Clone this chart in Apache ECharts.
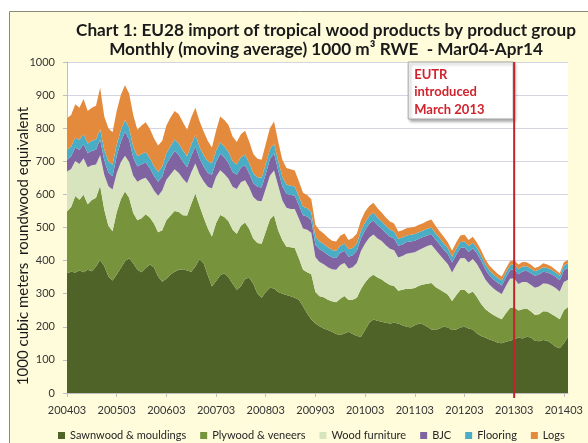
<!DOCTYPE html>
<html>
<head>
<meta charset="utf-8">
<script src="https://cdn.jsdelivr.net/npm/echarts@6/dist/echarts.min.js"></script>
<style>
  html, body { margin: 0; padding: 0; background: #ffffff; }
  #chart { width: 588px; height: 443px; }
</style>
</head>
<body>
<div id="chart"></div>
<script>
// Monthly categories, March 2004 to April 2014 (yyyymm)
const firstYear = 2004, firstMonth = 3, monthCount = 122;
const months = [];
for (let k = 0; k < monthCount; k++) {
  const m = firstMonth - 1 + k;
  months.push(String(firstYear + Math.floor(m / 12)) + String(m % 12 + 1).padStart(2, '0'));
}

const seriesNames = ['Sawnwood & mouldings', 'Plywood & veneers', 'Wood furniture', 'BJC', 'Flooring', 'Logs'];

// 1000 m3 RWE, moving average, one value per month
const sawnwood = [
  362,366,364,370,365,372,368,382,402,384,352,340,
  358,378,398,407,392,372,365,378,388,380,352,336,
  345,358,366,372,374,370,366,382,404,392,356,322,
  338,356,362,350,330,312,322,345,348,330,300,288,
  305,318,316,305,300,296,292,288,282,262,240,222,
  210,202,195,190,185,178,175,180,185,178,172,170,
  190,212,222,218,215,212,210,212,210,205,200,198,
  205,210,208,200,192,190,195,200,198,190,192,198,
  200,195,192,180,172,168,162,158,152,150,155,158,
  162,168,165,170,168,158,156,160,158,150,140,135,
  150,170
];
const plywood = [
  186,196,231,214,234,198,215,208,224,170,153,149,
  188,207,211,183,152,150,163,162,142,132,134,156,
  177,178,184,175,163,166,205,221,162,138,142,151,
  175,182,170,169,163,169,183,170,148,136,153,163,
  182,206,221,187,162,146,148,150,125,110,125,137,
  95,90,94,92,92,96,110,113,96,104,116,144,
  144,137,135,131,128,122,116,111,99,107,115,117,
  112,114,120,130,140,130,118,105,99,88,103,113,
  112,105,115,110,98,86,82,78,77,73,86,99,
  97,81,88,85,79,78,82,87,88,89,91,88,
  100,90
];
const furniture = [
  121,115,106,108,110,112,105,100,92,105,120,126,
  118,112,108,108,112,116,118,110,104,100,110,120,
  122,124,126,118,110,98,95,90,95,110,125,145,
  140,135,130,128,130,135,132,128,125,126,128,128,
  130,132,135,135,120,118,116,118,120,125,128,125,
  105,104,100,98,97,98,102,100,95,98,105,115,
  118,120,122,118,116,112,110,108,100,102,106,108,
  108,108,110,114,116,113,105,98,92,86,92,96,
  96,94,98,100,98,90,84,80,78,76,82,88,
  88,80,82,80,80,82,84,84,84,86,86,84,
  85,82
];
const bjc = [
  35,38,41,42,43,42,44,45,48,44,41,40,
  52,62,72,68,55,46,45,46,45,44,42,42,
  48,52,55,54,52,48,50,52,48,44,42,41,
  45,50,50,48,45,43,44,45,43,42,42,42,
  45,50,52,46,43,42,42,41,40,40,40,38,
  38,38,38,37,36,36,36,37,36,36,37,38,
  40,42,42,40,38,37,36,36,36,35,35,35,
  35,34,33,32,32,31,31,30,30,30,30,31,
  32,32,32,32,32,30,28,27,26,26,26,26,
  28,30,32,34,35,36,36,35,34,34,34,34,
  36,36
];
const flooring = [
  30,30,30,30,31,30,30,31,31,32,34,35,
  34,35,36,35,33,31,31,32,31,30,30,30,
  32,34,35,35,34,33,34,35,35,34,35,35,
  34,34,33,33,32,31,31,32,31,30,29,29,
  30,30,30,29,28,28,28,27,27,26,25,25,
  24,24,23,23,22,22,22,22,22,22,22,23,
  24,24,24,23,22,22,22,21,21,21,20,20,
  20,20,20,20,20,19,19,19,18,18,18,18,
  18,18,17,17,16,16,15,15,15,15,15,15,
  15,15,15,14,14,14,14,14,14,13,13,13,
  14,14
];
const logs = [
  96,95,100,98,105,98,100,102,125,100,100,98,
  102,106,105,104,96,80,86,90,88,84,80,78,
  84,86,86,88,85,80,82,82,78,72,62,48,
  60,78,80,82,75,68,70,72,65,58,56,55,
  60,64,66,58,52,50,50,48,46,42,40,38,
  36,34,32,30,28,28,30,30,28,30,30,32,
  32,30,30,28,26,25,24,24,22,22,22,22,
  22,22,22,24,24,22,20,20,18,18,20,20,
  20,18,18,16,16,15,14,14,12,12,12,12,
  12,14,14,12,12,10,10,12,10,10,8,8,
  10,10
];

const yTicks = { min: 0, max: 1000, interval: 100 };
const yTitle = '1000 cubic meters  roundwood equivalent';
const eutrMonth = '201303';
const eutrLines = ['EUTR', 'introduced', 'March 2013'];

const palette = ['#4F6228', '#77933C', '#D7E4BD', '#8064A2', '#4BACC6', '#E38A3C'];
const values = [sawnwood, plywood, furniture, bjc, flooring, logs];

const chart = echarts.init(document.getElementById('chart'), null, { renderer: 'canvas' });
const FONT = 'Lato, "Open Sans", sans-serif';

const series = seriesNames.map((name, i) => ({
  name: name,
  type: 'line',
  stack: 'total',
  data: values[i],
  symbol: 'none',
  lineStyle: { width: 0 },
  areaStyle: { color: palette[i], opacity: 1 },
  itemStyle: { color: palette[i] },
  z: 2
}));

chart.setOption({
  animation: false,
  backgroundColor: '#ffffff',
  color: palette,
  title: {
    text: 'Chart 1: EU28 import of tropical wood products by product group\nMonthly (moving average) 1000 m\u00B3 RWE  - Mar04-Apr14',
    left: 321,
    top: 16,
    textAlign: 'center',
    textStyle: { fontFamily: FONT, fontWeight: 'bold', fontSize: 17.2, lineHeight: 19, color: '#1a1a1a' }
  },
  grid: {
    left: 67, right: 20, top: 62, bottom: 50,
    show: true, backgroundColor: '#ffffff', borderWidth: 0
  },
  legend: {
    data: seriesNames,
    left: 58,
    top: 430,
    width: 530,
    padding: 0,
    icon: 'rect',
    itemWidth: 7,
    itemHeight: 7,
    itemGap: 14,
    textStyle: { fontFamily: FONT, fontSize: 11, color: '#262626' }
  },
  xAxis: {
    type: 'category',
    data: months,
    boundaryGap: false,
    axisLine: { lineStyle: { color: '#BFBFBF' } },
    axisTick: { show: true, interval: 11, length: 4, lineStyle: { color: '#BFBFBF' } },
    axisLabel: { interval: 11, fontFamily: FONT, fontSize: 11, color: '#333333', margin: 12 },
    splitLine: { show: false }
  },
  yAxis: {
    type: 'value',
    min: yTicks.min,
    max: yTicks.max,
    interval: yTicks.interval,
    axisLine: { show: true, lineStyle: { color: '#BFBFBF' } },
    axisTick: { show: true, length: 4, lineStyle: { color: '#BFBFBF' } },
    axisLabel: { fontFamily: FONT, fontSize: 11, color: '#333333', margin: 12, formatter: v => String(v) },
    splitLine: { lineStyle: { color: '#D4D4E2', width: 1 } }
  },
  series: series
});

// Chart frame, rotated axis title, EUTR marker line and its note box
const lineX = chart.convertToPixel({ xAxisIndex: 0 }, eutrMonth);
const topY = chart.convertToPixel({ yAxisIndex: 0 }, yTicks.max);
const baseY = chart.convertToPixel({ yAxisIndex: 0 }, yTicks.min);
const boxW = 105, boxH = 57;
chart.setOption({
  graphic: [
    {
      type: 'rect', z: -10, silent: true,
      shape: { x: 9.5, y: 11.5, width: 620, height: 460 },
      style: { fill: '#FFFCDC', stroke: '#8C8878', lineWidth: 1 }
    },
    {
      type: 'text', silent: true, z: 10,
      x: 23, y: 246, rotation: Math.PI / 2,
      style: {
        text: yTitle, fill: '#1a1a1a',
        fontFamily: FONT, fontSize: 15,
        align: 'center', verticalAlign: 'middle'
      }
    },
    {
      type: 'line', silent: true, z: 15,
      shape: { x1: lineX, y1: topY, x2: lineX, y2: baseY + 5 },
      style: { stroke: '#C0242C', lineWidth: 2 }
    },
    {
      type: 'group', z: 20, silent: true,
      x: lineX - boxW - 1, y: topY,
      children: [
        {
          type: 'rect',
          shape: { x: 0, y: 0, width: boxW, height: boxH },
          style: {
            fill: '#ffffff', stroke: '#A6A6A6', lineWidth: 1,
            shadowBlur: 3, shadowOffsetX: 2, shadowOffsetY: 2, shadowColor: 'rgba(0,0,0,0.35)'
          }
        },
        {
          type: 'text', x: 6, y: 4,
          style: {
            text: eutrLines.join('\n'),
            fill: '#D2222C',
            fontFamily: FONT, fontSize: 13, fontWeight: 'bold',
            lineHeight: 17.5
          }
        }
      ]
    }
  ]
});
</script>
</body>
</html>
